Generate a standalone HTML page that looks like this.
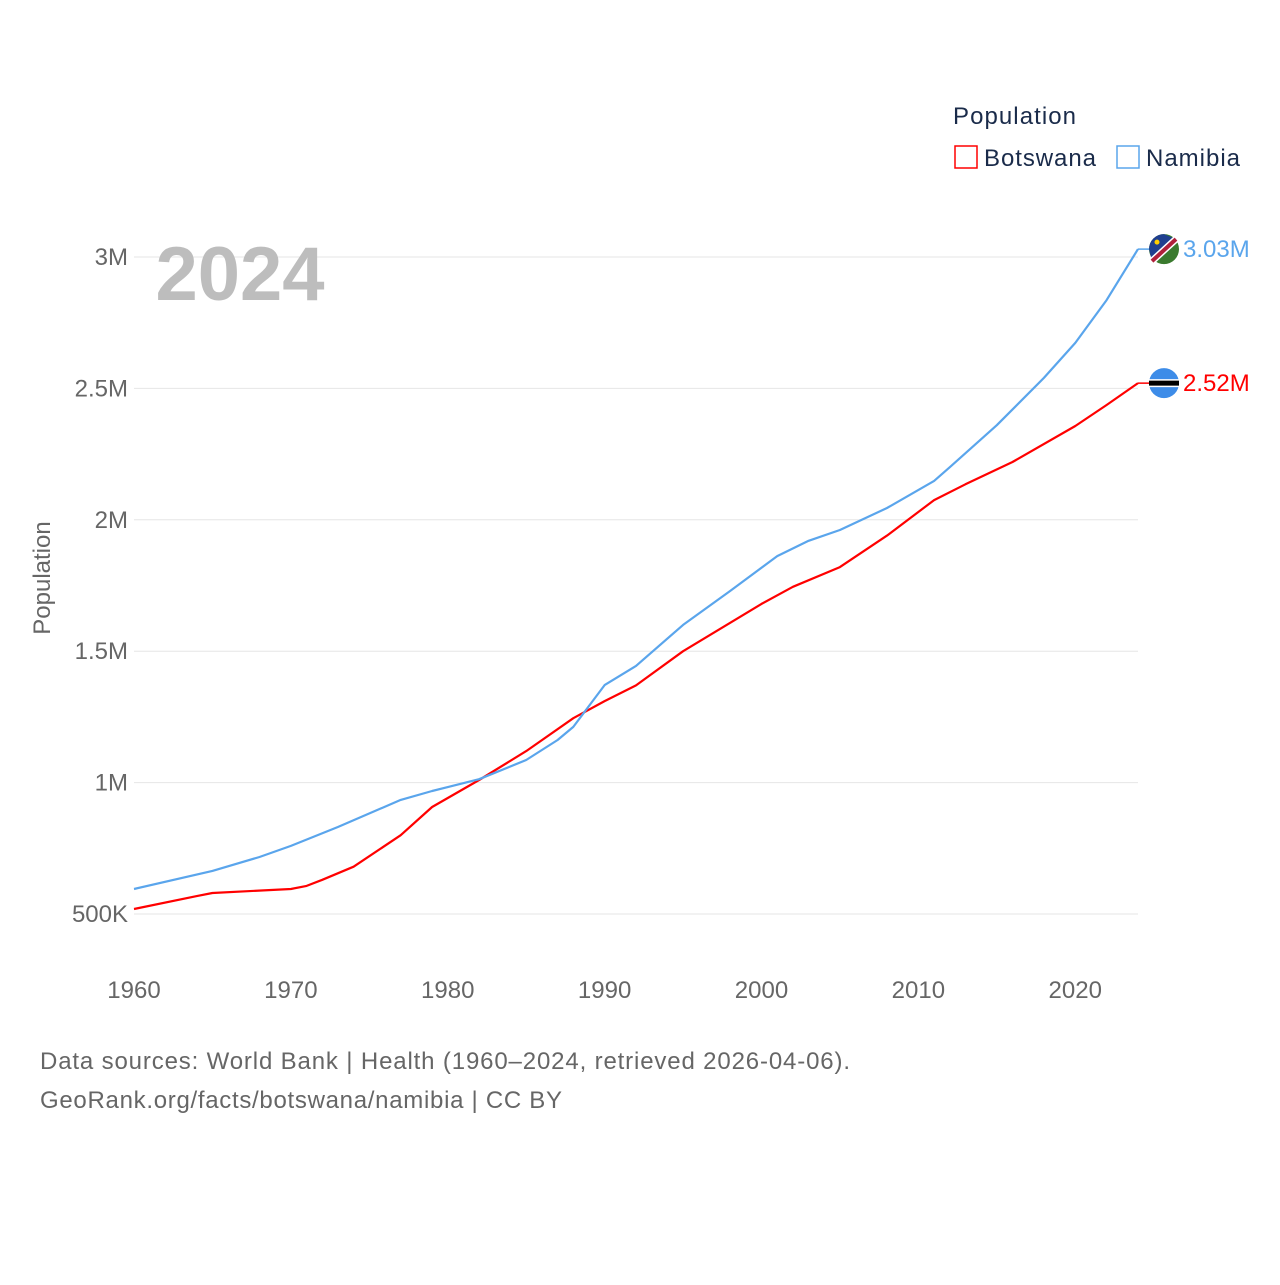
<!DOCTYPE html>
<html><head><meta charset="utf-8"><style>
body{margin:0;background:#fff;font-family:"Liberation Sans",sans-serif}
svg text{font-family:"Liberation Sans",sans-serif}
</style></head><body>
<svg width="1280" height="1280" viewBox="0 0 1280 1280" xmlns="http://www.w3.org/2000/svg">
<g id="grid"></g>
<g id="yticks"></g>
<g id="xticks"></g>
<text x="240" y="300" font-size="76" font-weight="bold" fill="#bdbdbd" text-anchor="middle">2024</text>
<text x="50" y="578" font-size="24" fill="#666" text-anchor="middle" transform="rotate(-90 50 578)">Population</text>
<g id="series"></g>
<text x="953" y="124" font-size="24" fill="#1a2b4a" textLength="123">Population</text>
<g><rect x="955" y="146" width="22" height="22" fill="none" stroke="#ff0000" stroke-width="1.5"/><text x="984" y="166" font-size="24" fill="#1a2b4a" textLength="112">Botswana</text></g>
<g><rect x="1117" y="146" width="22" height="22" fill="none" stroke="#5aa5ec" stroke-width="1.5"/><text x="1146" y="166" font-size="24" fill="#1a2b4a" textLength="94">Namibia</text></g>
<text x="40" y="1069" font-size="24" fill="#666" textLength="810">Data sources: World Bank | Health (1960–2024, retrieved 2026-04-06).</text>
<text x="40" y="1108" font-size="24" fill="#666" textLength="522">GeoRank.org/facts/botswana/namibia | CC BY</text>
</svg>
<script>
const xTicks=[1960,1970,1980,1990,2000,2010,2020];
const yTicks=[0.5,1,1.5,2,2.5,3];
const yTickLabels=["500K","1M","1.5M","2M","2.5M","3M"];
const botYears=[1960,1964,1965,1970,1971,1972,1974,1977,1979,1982,1985,1988,1990,1992,1995,2000,2002,2005,2008,2011,2013,2016,2020,2022,2024];
const botVals=[0.519,0.568,0.58,0.595,0.607,0.63,0.68,0.80,0.907,1.01,1.12,1.245,1.31,1.37,1.50,1.68,1.745,1.82,1.94,2.075,2.135,2.22,2.357,2.437,2.52];
const namYears=[1960,1965,1968,1970,1973,1977,1979,1980,1982,1985,1987,1988,1990,1992,1995,1998,2001,2003,2005,2008,2011,2012,2015,2018,2020,2022,2024];
const namVals=[0.595,0.664,0.717,0.759,0.831,0.934,0.968,0.983,1.013,1.086,1.162,1.212,1.371,1.444,1.60,1.729,1.862,1.92,1.961,2.045,2.148,2.20,2.36,2.54,2.673,2.836,3.03];
const NS="http://www.w3.org/2000/svg";
const xs=y=>134+(y-1960)*(1138-134)/64;
const ys=v=>914-(v-0.5)*262.8;
function mk(tag,attrs,parent,txt){const e=document.createElementNS(NS,tag);for(const k in attrs)e.setAttribute(k,attrs[k]);if(txt!==undefined)e.textContent=txt;parent.appendChild(e);return e;}
const grid=document.getElementById('grid'),yt=document.getElementById('yticks'),xt=document.getElementById('xticks'),ser=document.getElementById('series');
yTicks.forEach((v,i)=>{
 const l=mk('line',{x1:134,x2:1138,y1:ys(v),y2:ys(v),stroke:'#e6e6e6','stroke-width':1},grid);
 
 
 const t=mk('text',{x:128,y:ys(v)+8,'font-size':24,fill:'#666','text-anchor':'end'},yt,yTickLabels[i]);
 
 
});
xTicks.forEach(y=>{
 const t=mk('text',{x:xs(y),y:998,'font-size':24,fill:'#666','text-anchor':'middle'},xt,String(y));
 
 
});
function line(years,vals,color,name){
 const d=years.map((y,i)=>(i?'L':'M')+xs(y).toFixed(1)+' '+ys(vals[i]).toFixed(1)).join(' ');
 const p=mk('path',{d:d,fill:'none',stroke:color,'stroke-width':2.2,'stroke-linejoin':'round'},ser);
 
 
 const last=vals[vals.length-1],ly=ys(last);
 const c=mk('line',{x1:1138,x2:1150,y1:ly,y2:ly,stroke:color,'stroke-width':1.5},ser);
 
 
 const lab=mk('text',{x:1183,y:ly+8,'font-size':24,fill:color},ser,last.toFixed(2)+'M');
 
 
 return ly;
}
const by=line(botYears,botVals,'#ff0000','botswana');
const ny=line(namYears,namVals,'#5aa5ec','namibia');
const bf=mk('g',{},ser);


mk('circle',{cx:1164,cy:by,r:15,fill:'#3d8ce8'},bf);
mk('rect',{x:1149,y:by-4,width:30,height:8,fill:'#fff'},bf);
mk('rect',{x:1149,y:by-2.5,width:30,height:5,fill:'#000'},bf);
const nf=mk('g',{},ser);


mk('circle',{cx:1164,cy:ny,r:15,fill:'#3a7a2e'},nf);
mk('path',{d:`M1149 ${ny} A15 15 0 0 1 1164 ${ny-15} L1176 ${ny-10} L1152 ${ny+12} Z`,fill:'#1f3f8f'},nf);
mk('line',{x1:1152,y1:ny+12,x2:1176,y2:ny-10,stroke:'#fff','stroke-width':7},nf);
mk('line',{x1:1152,y1:ny+12,x2:1176,y2:ny-10,stroke:'#b0203a','stroke-width':4},nf);
mk('circle',{cx:1157,cy:ny-7,r:2.5,fill:'#ffce00'},nf);
</script>
</body></html>
